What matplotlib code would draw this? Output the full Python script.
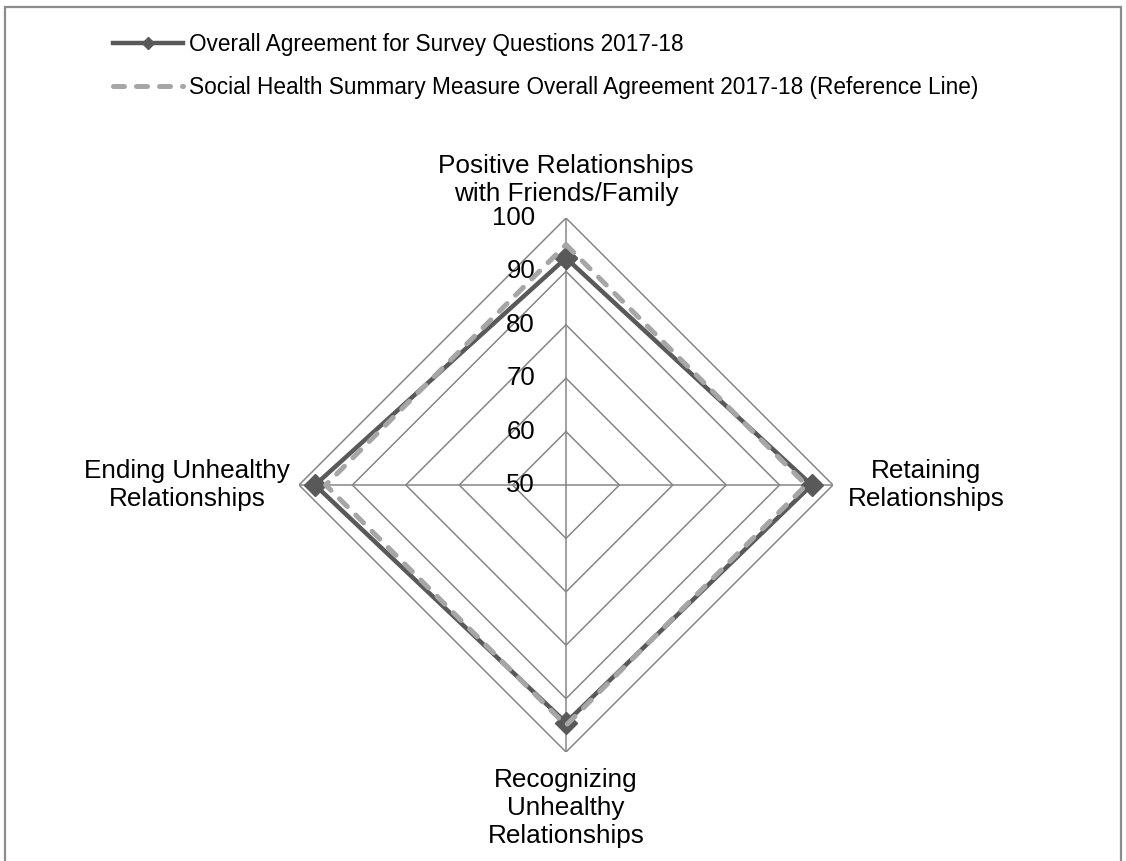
import numpy as np
import matplotlib
matplotlib.use("Agg")
import matplotlib.pyplot as plt
from matplotlib.patches import Rectangle

plt.rcParams['font.family'] = ['Liberation Sans', 'DejaVu Sans']

# datos
categories = ["Positive Relationships\nwith Friends/Family",
              "Retaining\nRelationships",
              "Recognizing\nUnhealthy\nRelationships",
              "Ending Unhealthy\nRelationships"]
survey_values = [92.5, 96.0, 94.5, 97.0]
reference_values = [95.0, 95.0, 95.0, 95.0]
r_ticks = [50, 60, 70, 80, 90, 100]
series_labels = ["Overall Agreement for Survey Questions 2017-18",
                 "Social Health Summary Measure Overall Agreement 2017-18 (Reference Line)"]

dark = '#595959'
light = '#A6A6A6'
grid_col = '#868686'

W, H = 1126, 861
fig = plt.figure(figsize=(W / 100, H / 100), dpi=100)

# marco exterior
fig.patches.append(Rectangle((5 / W, -0.05), 1116 / W, 1.05 - 7 / H, transform=fig.transFigure,
                             fill=False, edgecolor='#8c8c8c', linewidth=1.6))

cx, cy, rad = 566, H - 485, 267
ax = fig.add_axes([(cx - rad) / W, (cy - rad) / H, 2 * rad / W, 2 * rad / H], polar=True)
ax.set_theta_offset(np.pi / 2)
ax.set_theta_direction(-1)
ax.set_ylim(50, 100)
ax.grid(False)
ax.spines['polar'].set_visible(False)
ax.patch.set_visible(False)
ax.set_xticks([])
ax.set_yticks([])

angles = np.linspace(0, 2 * np.pi, len(categories), endpoint=False)
closed = np.append(angles, angles[0])

# rejilla poligonal
for r in r_ticks:
    ax.plot(closed, [r] * len(closed), color=grid_col, lw=1.1, zorder=1)
for a in angles:
    ax.plot([a, a], [r_ticks[0], r_ticks[-1]], color=grid_col, lw=1.1, zorder=1)

# etiquetas del eje radial
for r in r_ticks:
    ax.annotate(str(r), (0, r), xytext=(-31, 0), textcoords='offset pixels',
                ha='right', va='center', fontsize=18.5, color='black')

# series
sv = survey_values + survey_values[:1]
rv = reference_values + reference_values[:1]
ax.plot(closed, sv, color=dark, lw=3.2, marker='D', markersize=11,
        label=series_labels[0], zorder=3, clip_on=False)
ax.plot(closed, rv, color=light, lw=3.6, dashes=(2.2, 2.4), dash_capstyle='round',
        label=series_labels[1], zorder=4, clip_on=False)

# etiquetas de categorias
offsets = [((0, 12), 'center', 'bottom'),
           ((15, 0), 'left', 'center'),
           ((0, -16), 'center', 'top'),
           ((-9, 0), 'right', 'center')]
for a, lab, (off, ha, va) in zip(angles, categories, offsets):
    ax.annotate(lab, (a, 100), xytext=off, textcoords='offset pixels',
                ha=ha, va=va, multialignment='center', fontsize=18.8)

leg = fig.legend(loc='upper left', bbox_to_anchor=(113 / W, 1 - 33 / H), frameon=False,
                 fontsize=16.3, handlelength=3.1, handletextpad=0.25, labelspacing=0.9,
                 borderpad=0, borderaxespad=0, markerscale=0.6)

fig.savefig('out.png', dpi=100)
